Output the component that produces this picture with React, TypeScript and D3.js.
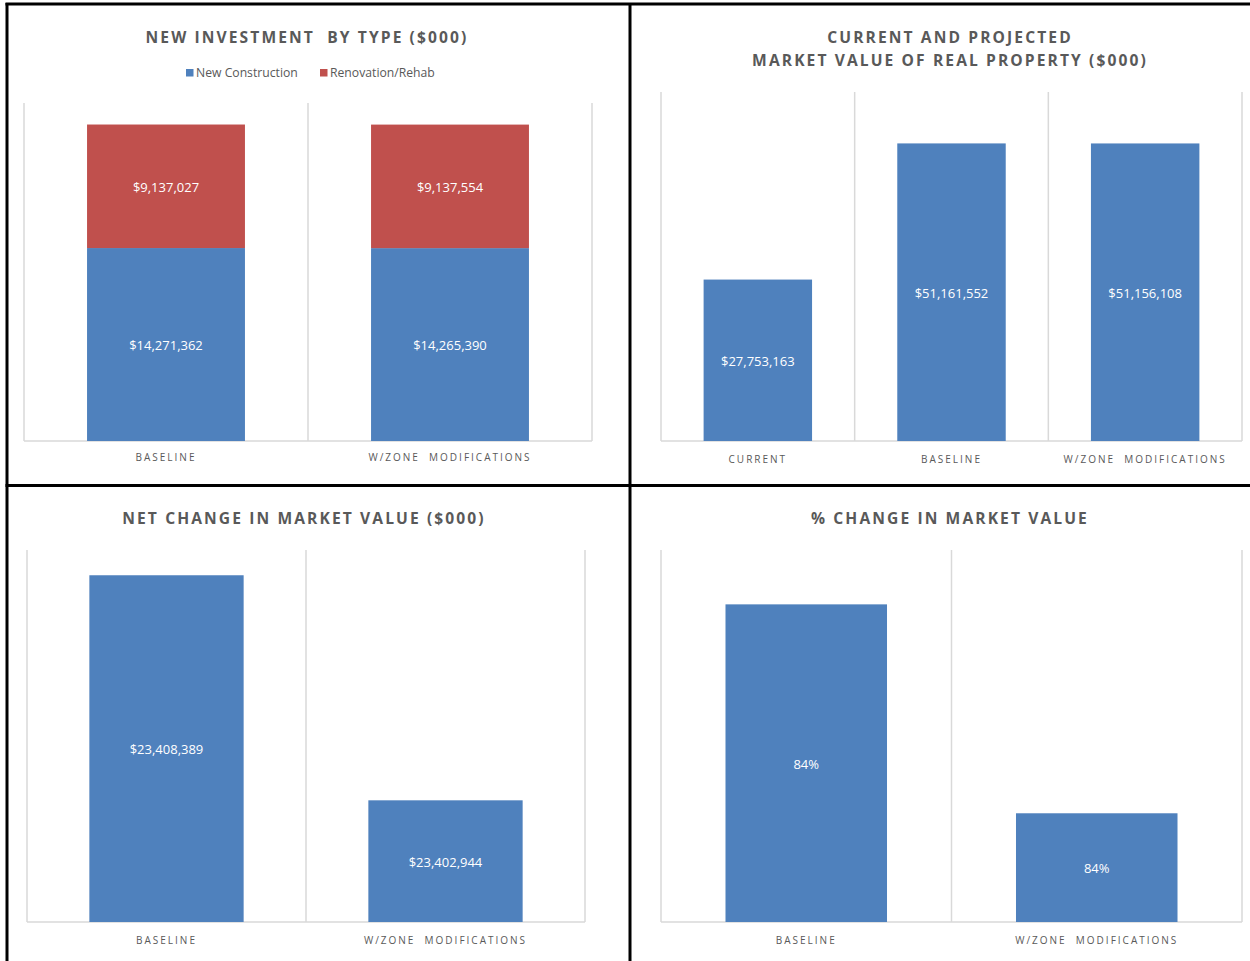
import React from "react";
import * as d3 from "d3";

// ---------- DATA ----------
const investCategories = ["BASELINE", "W/ZONE  MODIFICATIONS"];
const newConstruction = [14271362, 14265390];
const renovationRehab = [9137027, 9137554];
const investSeries = ["New Construction", "Renovation/Rehab"];

const marketCategories = ["CURRENT", "BASELINE", "W/ZONE  MODIFICATIONS"];
const marketValues = [27753163, 51161552, 51156108];

const netCategories = ["BASELINE", "W/ZONE  MODIFICATIONS"];
const netValues = [23408389, 23402944];

const pctCategories = ["BASELINE", "W/ZONE  MODIFICATIONS"];
const pctValues = [0.843485, 0.843289];

// axis domains (value axes hidden)
const investDomain = [0, 25000000];
const marketDomain = [0, 60000000];
const netDomain = [23400000, 23409000];
const pctDomain = [0.843187, 0.843536];

const BLUE = "#4F81BD";
const RED = "#C0504D";
const GRID = "#D9D9D9";
const TEXT = "#595959";
const FONT = "'Open Sans', 'DejaVu Sans', sans-serif";

const money = (v: number) => "$" + d3.format(",")(v);
const pct = d3.format(".0%");

type Seg = { value0: number; value1: number; label: string; color: string };

function Panel(props: {
  x0: number; x1: number; yTop: number; yBottom: number;
  categories: string[]; domain: number[];
  stacks: Seg[][]; catLabelY: number; barRatio: number;
}) {
  const { x0, x1, yTop, yBottom, categories, domain, stacks, catLabelY, barRatio } = props;
  const x = d3.scaleBand<string>().domain(categories).range([x0, x1]).padding(0);
  const y = d3.scaleLinear().domain(domain).range([yBottom, yTop]);
  const bw = x.bandwidth() * barRatio;
  const bounds = categories.map((c) => x(c) as number).concat([x1]);
  return (
    <g>
      {bounds.map((b, i) => (
        <line key={"s" + i} x1={b} x2={b} y1={yTop} y2={yBottom} stroke={GRID} strokeWidth={1.5} />
      ))}
      <line x1={x0} x2={x1} y1={yBottom} y2={yBottom} stroke={GRID} strokeWidth={1.5} />
      {categories.map((c, i) => {
        const cx = (x(c) as number) + x.bandwidth() / 2;
        return (
          <g key={c}>
            {stacks[i].map((s, j) => {
              const top = y(s.value1);
              const bot = y(s.value0);
              return (
                <g key={j}>
                  <rect x={cx - bw / 2} y={top} width={bw} height={bot - top} fill={s.color} />
                  <text x={cx} y={(top + bot) / 2 + 1} dy="0.35em" textAnchor="middle" fill="#fff"
                    fontFamily={FONT} fontSize={13}>{s.label}</text>
                </g>
              );
            })}
            <text x={cx} y={catLabelY} dy="0.35em" textAnchor="middle" fill={TEXT}
              fontFamily={FONT} fontSize={10} letterSpacing={2} style={{ whiteSpace: "pre" }}>{c}</text>
          </g>
        );
      })}
    </g>
  );
}

function Title(props: { x: number; y: number; lines: string[] }) {
  return (
    <text x={props.x} textAnchor="middle" fill={TEXT} fontFamily={FONT} fontWeight="bold"
      fontSize={15.6} letterSpacing={2.1} style={{ whiteSpace: "pre" }}>
      {props.lines.map((l, i) => (
        <tspan key={i} x={props.x} y={props.y + i * 23} dy="0.35em">{l}</tspan>
      ))}
    </text>
  );
}

export default function App() {
  const investStacks: Seg[][] = investCategories.map((_, i) => [
    { value0: 0, value1: newConstruction[i], label: money(newConstruction[i]), color: BLUE },
    { value0: newConstruction[i], value1: newConstruction[i] + renovationRehab[i], label: money(renovationRehab[i]), color: RED },
  ]);
  const marketStacks: Seg[][] = marketValues.map((v) => [
    { value0: marketDomain[0], value1: v, label: money(v), color: BLUE },
  ]);
  const netStacks: Seg[][] = netValues.map((v) => [
    { value0: netDomain[0], value1: v, label: money(v), color: BLUE },
  ]);
  const pctStacks: Seg[][] = pctValues.map((v) => [
    { value0: pctDomain[0], value1: v, label: pct(v), color: BLUE },
  ]);
  const legendColors = [BLUE, RED];
  const legendX = [186, 320];
  return (
    <svg width={1250} height={961} style={{ position: "absolute", left: 0, top: 0, background: "#fff" }}>
      <rect x={0} y={0} width={1250} height={961} fill="#fff" />
      <Title x={307} y={38} lines={["NEW INVESTMENT  BY TYPE ($000)"]} />
      {investSeries.map((s, i) => (
        <g key={s}>
          <rect x={legendX[i]} y={69} width={7.5} height={7.5} fill={legendColors[i]} />
          <text x={legendX[i] + 10} y={73} dy="0.35em" fill={TEXT} fontFamily={FONT} fontSize={12.2}>{s}</text>
        </g>
      ))}
      <Panel x0={24} x1={592} yTop={103} yBottom={441} categories={investCategories}
        domain={investDomain} stacks={investStacks} catLabelY={457} barRatio={0.556} />

      <Title x={950} y={38} lines={["CURRENT AND PROJECTED", "MARKET VALUE OF REAL PROPERTY ($000)"]} />
      <Panel x0={661} x1={1242} yTop={92} yBottom={441} categories={marketCategories}
        domain={marketDomain} stacks={marketStacks} catLabelY={459} barRatio={0.56} />

      <Title x={304} y={519} lines={["NET CHANGE IN MARKET VALUE ($000)"]} />
      <Panel x0={27} x1={585} yTop={550} yBottom={922} categories={netCategories}
        domain={netDomain} stacks={netStacks} catLabelY={940} barRatio={0.553} />

      <Title x={950} y={519} lines={["% CHANGE IN MARKET VALUE"]} />
      <Panel x0={661} x1={1242} yTop={550} yBottom={922} categories={pctCategories}
        domain={pctDomain} stacks={pctStacks} catLabelY={940} barRatio={0.556} />

      {/* table borders */}
      <line x1={7} x2={7} y1={3} y2={961} stroke="#000" strokeWidth={3} />
      <line x1={5.5} x2={1250} y1={4} y2={4} stroke="#000" strokeWidth={3} />
      <line x1={630} x2={630} y1={3} y2={961} stroke="#000" strokeWidth={3} />
      <line x1={5.5} x2={1250} y1={485.5} y2={485.5} stroke="#000" strokeWidth={3} />
    </svg>
  );
}
